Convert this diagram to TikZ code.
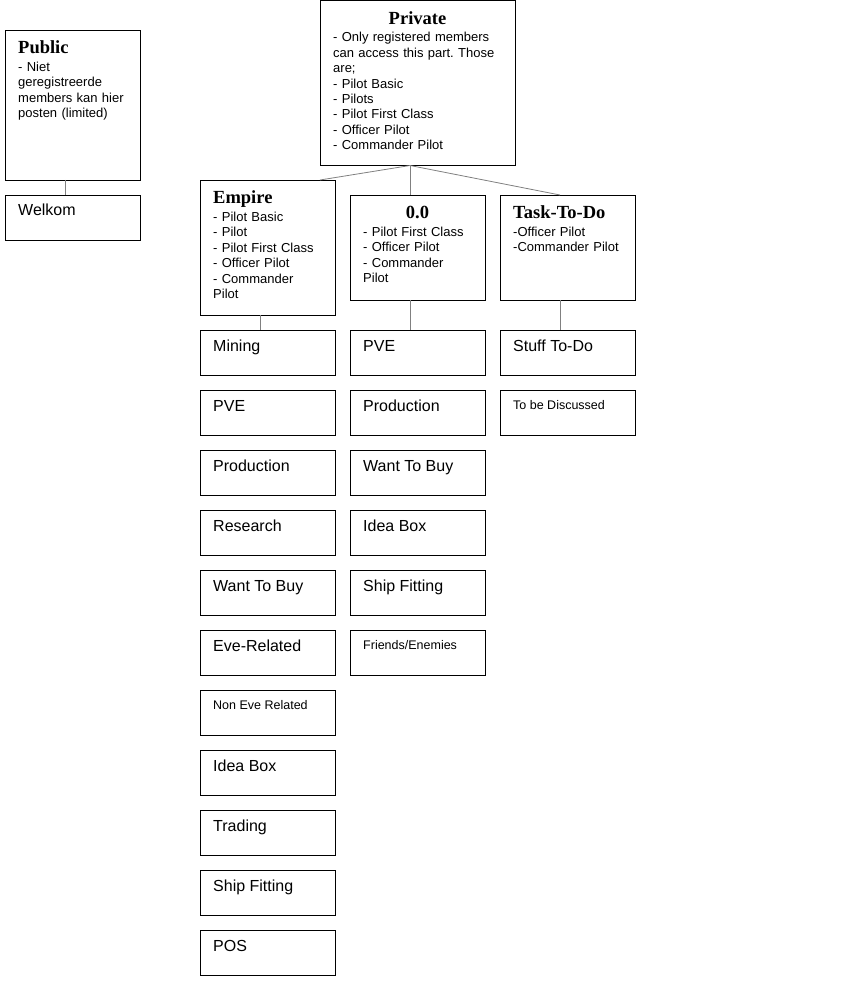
\documentclass[tikz,border=0pt]{standalone}
\usepackage{fontspec}
\newfontfamily\bodyfam{Liberation Sans}
\newfontfamily\headfam{Liberation Serif}
\usetikzlibrary{positioning}
\frenchspacing

\begin{document}
\begin{tikzpicture}[x=1pt,y=-1pt,node distance=15pt,
		box/.style={draw,line width=0.8pt,minimum width=135pt,minimum height=45pt,inner sep=0pt,outer sep=0pt},
		itemtext/.style={font=\bodyfam\fontsize{16}{19}\selectfont,anchor=base west,inner sep=0pt,xshift=13pt,yshift=-21pt},
		smalltext/.style={font=\bodyfam\fontsize{12.5}{15}\selectfont,anchor=base west,inner sep=0pt,xshift=13pt,yshift=-19.5pt},
		item/.style={box,label={[itemtext]north west:#1}},
		smallitem/.style={box,label={[smalltext]north west:#1}},
		head/.style={box,anchor=north west},
		titleleft/.style={font=\headfam\bfseries\fontsize{18.5}{22}\selectfont,anchor=base west,inner sep=0pt,xshift=13pt,yshift=-24pt},
		titlemid/.style={font=\headfam\bfseries\fontsize{18.5}{22}\selectfont,anchor=base,inner sep=0pt,yshift=-24pt},
		bodytext/.style={font=\bodyfam\fontsize{13}{15.4}\selectfont,text width=#1,align=left,anchor=base west,inner sep=0pt,xshift=13pt,yshift=-41.5pt},
		link/.style={draw,color=gray,line width=0.8pt}]
		\useasboundingbox (0,0) rectangle (840,981);
		
		% public part
		\node[head,minimum height=150pt,
			label={[titleleft]north west:Public},
			label={[bodytext=120pt]north west:{- Niet\\geregistreerde\\members kan hier\\posten (limited)}}]
			(public) at (5,30) {};
		\node[item=Welkom] (welkom) [below=of public] {};
		
		% private part
		\node[head,minimum width=195pt,minimum height=165pt,
			label={[titlemid]north:Private},
			label={[bodytext=175pt]north west:{- Only registered members\\can access this part. Those\\are;\\- Pilot Basic\\- Pilots\\- Pilot First Class\\- Officer Pilot\\- Commander Pilot}}]
			(private) at (320,0.5) {};
		
		\node[head,minimum height=135pt,
			label={[titleleft]north west:Empire},
			label={[bodytext=120pt]north west:{- Pilot Basic\\- Pilot\\- Pilot First Class\\- Officer Pilot\\- Commander\\Pilot}}]
			(empire) at (200,180) {};
		\node[head,minimum height=105pt,
			label={[titlemid]north:0.0},
			label={[bodytext=120pt]north west:{- Pilot First Class\\- Officer Pilot\\- Commander\\Pilot}}]
			(zero) at (350,195) {};
		\node[head,minimum height=105pt,
			label={[titleleft]north west:Task-To-Do},
			label={[bodytext=120pt]north west:{-Officer Pilot\\-Commander Pilot}}]
			(task) at (500,195) {};
		
		% empire forums
		\node[item=Mining] (emp1) [below=of empire] {};
		\node[item=PVE] (emp2) [below=of emp1] {};
		\node[item=Production] (emp3) [below=of emp2] {};
		\node[item=Research] (emp4) [below=of emp3] {};
		\node[item=Want To Buy] (emp5) [below=of emp4] {};
		\node[item=Eve-Related] (emp6) [below=of emp5] {};
		\node[smallitem=Non Eve Related] (emp7) [below=of emp6] {};
		\node[item=Idea Box] (emp8) [below=of emp7] {};
		\node[item=Trading] (emp9) [below=of emp8] {};
		\node[item=Ship Fitting] (emp10) [below=of emp9] {};
		\node[item=POS] (emp11) [below=of emp10] {};
		
		% 0.0 forums
		\node[item=PVE] (zero1) [below=30pt of zero] {};
		\node[item=Production] (zero2) [below=of zero1] {};
		\node[item=Want To Buy] (zero3) [below=of zero2] {};
		\node[item=Idea Box] (zero4) [below=of zero3] {};
		\node[item=Ship Fitting] (zero5) [below=of zero4] {};
		\node[smallitem=Friends/Enemies] (zero6) [below=of zero5] {};
		
		% task forums
		\node[item=Stuff To-Do] (task1) [below=30pt of task] {};
		\node[smallitem=To be Discussed] (task2) [below=of task1] {};
		
		\path[link]
		([xshift=-7.5pt]public.south) edge ([xshift=-7.5pt]welkom.north)
		([xshift=-7.5pt]private.south) edge ([xshift=52.5pt]empire.north)
			edge ([xshift=-7.5pt]zero.north)
			edge ([xshift=-7.5pt]task.north)
		([xshift=-7.5pt]empire.south) edge ([xshift=-7.5pt]emp1.north)
		([xshift=-7.5pt]zero.south) edge ([xshift=-7.5pt]zero1.north)
		([xshift=-7.5pt]task.south) edge ([xshift=-7.5pt]task1.north);
	\end{tikzpicture}
\end{document}
